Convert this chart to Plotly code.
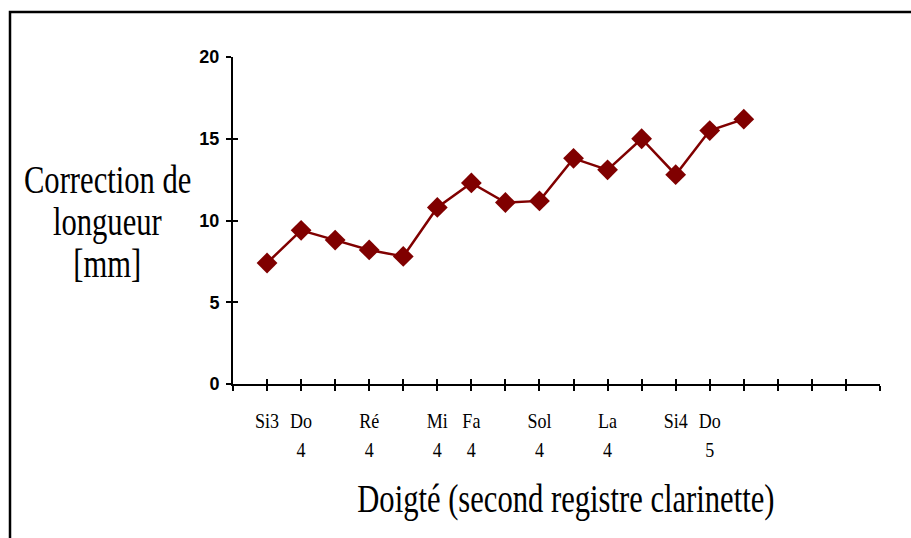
import plotly.graph_objects as go

# Fingerings of the clarinet's second register (note name, octave) and length correction
note_names = ["Si3", "Do", "", "Ré", "", "Mi", "Fa", "", "Sol", "", "La", "", "Si4", "Do", ""]
octaves = ["", "4", "", "4", "", "4", "4", "", "4", "", "4", "", "", "5", ""]
correction_mm = [7.4, 9.4, 8.8, 8.2, 7.8, 10.8, 12.3, 11.1, 11.2, 13.8, 13.1, 15.0, 12.8, 15.5, 16.2]
y_title_lines = ["Correction de", "longueur", "[mm]"]
x_title = "Doigté (second registre clarinette)"

n_slots = 19  # category slots shown on the horizontal axis
x_pos = list(range(1, len(correction_mm) + 1))
slot_vals = list(range(0, n_slots + 1))
line1 = [""] + note_names + [""] * (n_slots - len(note_names))
line2 = [""] + octaves + [""] * (n_slots - len(octaves))

W, H = 911, 538
L, R, T, B = 233, 31, 57, 154
pw, ph = W - L - R, H - T - B


def px_x(px):
    return (px - L) / pw


def px_y(py):
    return (H - B - py) / ph


RED = "#800000"
serif = "Liberation Serif, Times New Roman, serif"
sans = "Liberation Sans, Arial, sans-serif"

fig = go.Figure()
fig.add_trace(go.Scatter(
    x=x_pos, y=correction_mm, mode="lines+markers",
    line=dict(color=RED, width=2.5),
    marker=dict(symbol="diamond", size=16, color=RED),
    showlegend=False, hoverinfo="x+y",
))
# companion trace on the overlay axes (carries the second label row and the inner tick halves)
fig.add_trace(go.Scatter(
    x=x_pos, y=correction_mm, mode="lines", line=dict(width=0),
    xaxis="x2", yaxis="y2", showlegend=False, hoverinfo="skip", opacity=0,
))

axis_common = dict(showgrid=False, zeroline=False, tickcolor="black", tickwidth=2)

title_font = dict(family=serif, size=39, color="black")
annotations = [
    dict(text=txt, xref="paper", yref="paper", x=px_x(107), y=px_y(yc),
         xanchor="center", yanchor="middle", showarrow=False, font=title_font)
    for txt, yc in zip(y_title_lines, [179, 222, 263])
]
annotations.append(
    dict(text=x_title, xref="paper", yref="paper", x=px_x(566), y=px_y(499),
         xanchor="center", yanchor="middle", showarrow=False, font=title_font)
)

fig.update_layout(
    width=W, height=H,
    margin=dict(l=L, r=R, t=T, b=B),
    paper_bgcolor="white", plot_bgcolor="white",
    xaxis=dict(
        range=[0, n_slots], tickmode="array", tickvals=slot_vals, ticktext=line1,
        ticks="outside", ticklen=5, showline=True, linecolor="black", linewidth=2,
        tickfont=dict(family=serif, size=22, color="black"), ticklabelstandoff=11,
        **axis_common,
    ),
    xaxis2=dict(
        range=[0, n_slots], overlaying="x", anchor="y", side="bottom",
        tickmode="array", tickvals=slot_vals, ticktext=line2,
        ticks="inside", ticklen=5, showline=False,
        tickfont=dict(family=serif, size=22, color="black"), ticklabelstandoff=50,
        **axis_common,
    ),
    yaxis=dict(
        range=[0, 20], tickmode="linear", tick0=0, dtick=5,
        ticks="outside", ticklen=5, showline=True, linecolor="black", linewidth=2,
        tickfont=dict(family=sans, size=18, color="black", weight="bold"),
        ticklabelstandoff=3,
        **axis_common,
    ),
    yaxis2=dict(
        range=[0, 20], overlaying="y", anchor="x", side="left",
        tickmode="linear", tick0=0, dtick=5, ticks="inside", ticklen=5,
        showline=False, showticklabels=False,
        **axis_common,
    ),
    annotations=annotations,
    shapes=[
        dict(type="rect", xref="paper", yref="paper",
             x0=px_x(10), x1=px_x(925), y0=px_y(560), y1=px_y(12),
             line=dict(color="black", width=2.5), fillcolor="rgba(0,0,0,0)", layer="below"),
    ],
)

# Narrow the serif text horizontally around its own centre (condensed Times look)
condense_js = """
(function(){
  var gd = document.getElementById('{plot_id}');
  if (!gd) return;
  function squeeze(sel, s){
    gd.querySelectorAll(sel).forEach(function(el){
      var done = el.getAttribute('data-sq');
      if (done !== null && done === el.getAttribute('transform')) return;
      var b = el.getBBox();
      var cx = b.x + b.width / 2;
      var t = el.getAttribute('transform') || '';
      var nt = t + ' translate(' + cx + ',0) scale(' + s + ',1) translate(' + (-cx) + ',0)';
      el.setAttribute('transform', nt);
      el.setAttribute('data-sq', nt);
    });
  }
  function run(){
    squeeze('text.annotation-text', 0.785);
    squeeze('g.xtick text', 0.82);
    squeeze('g.x2tick text', 0.82);
  }
  run();
  if (gd.on) gd.on('plotly_afterplot', run);
})();
"""

fig.write_html("out.html", post_script=condense_js)
